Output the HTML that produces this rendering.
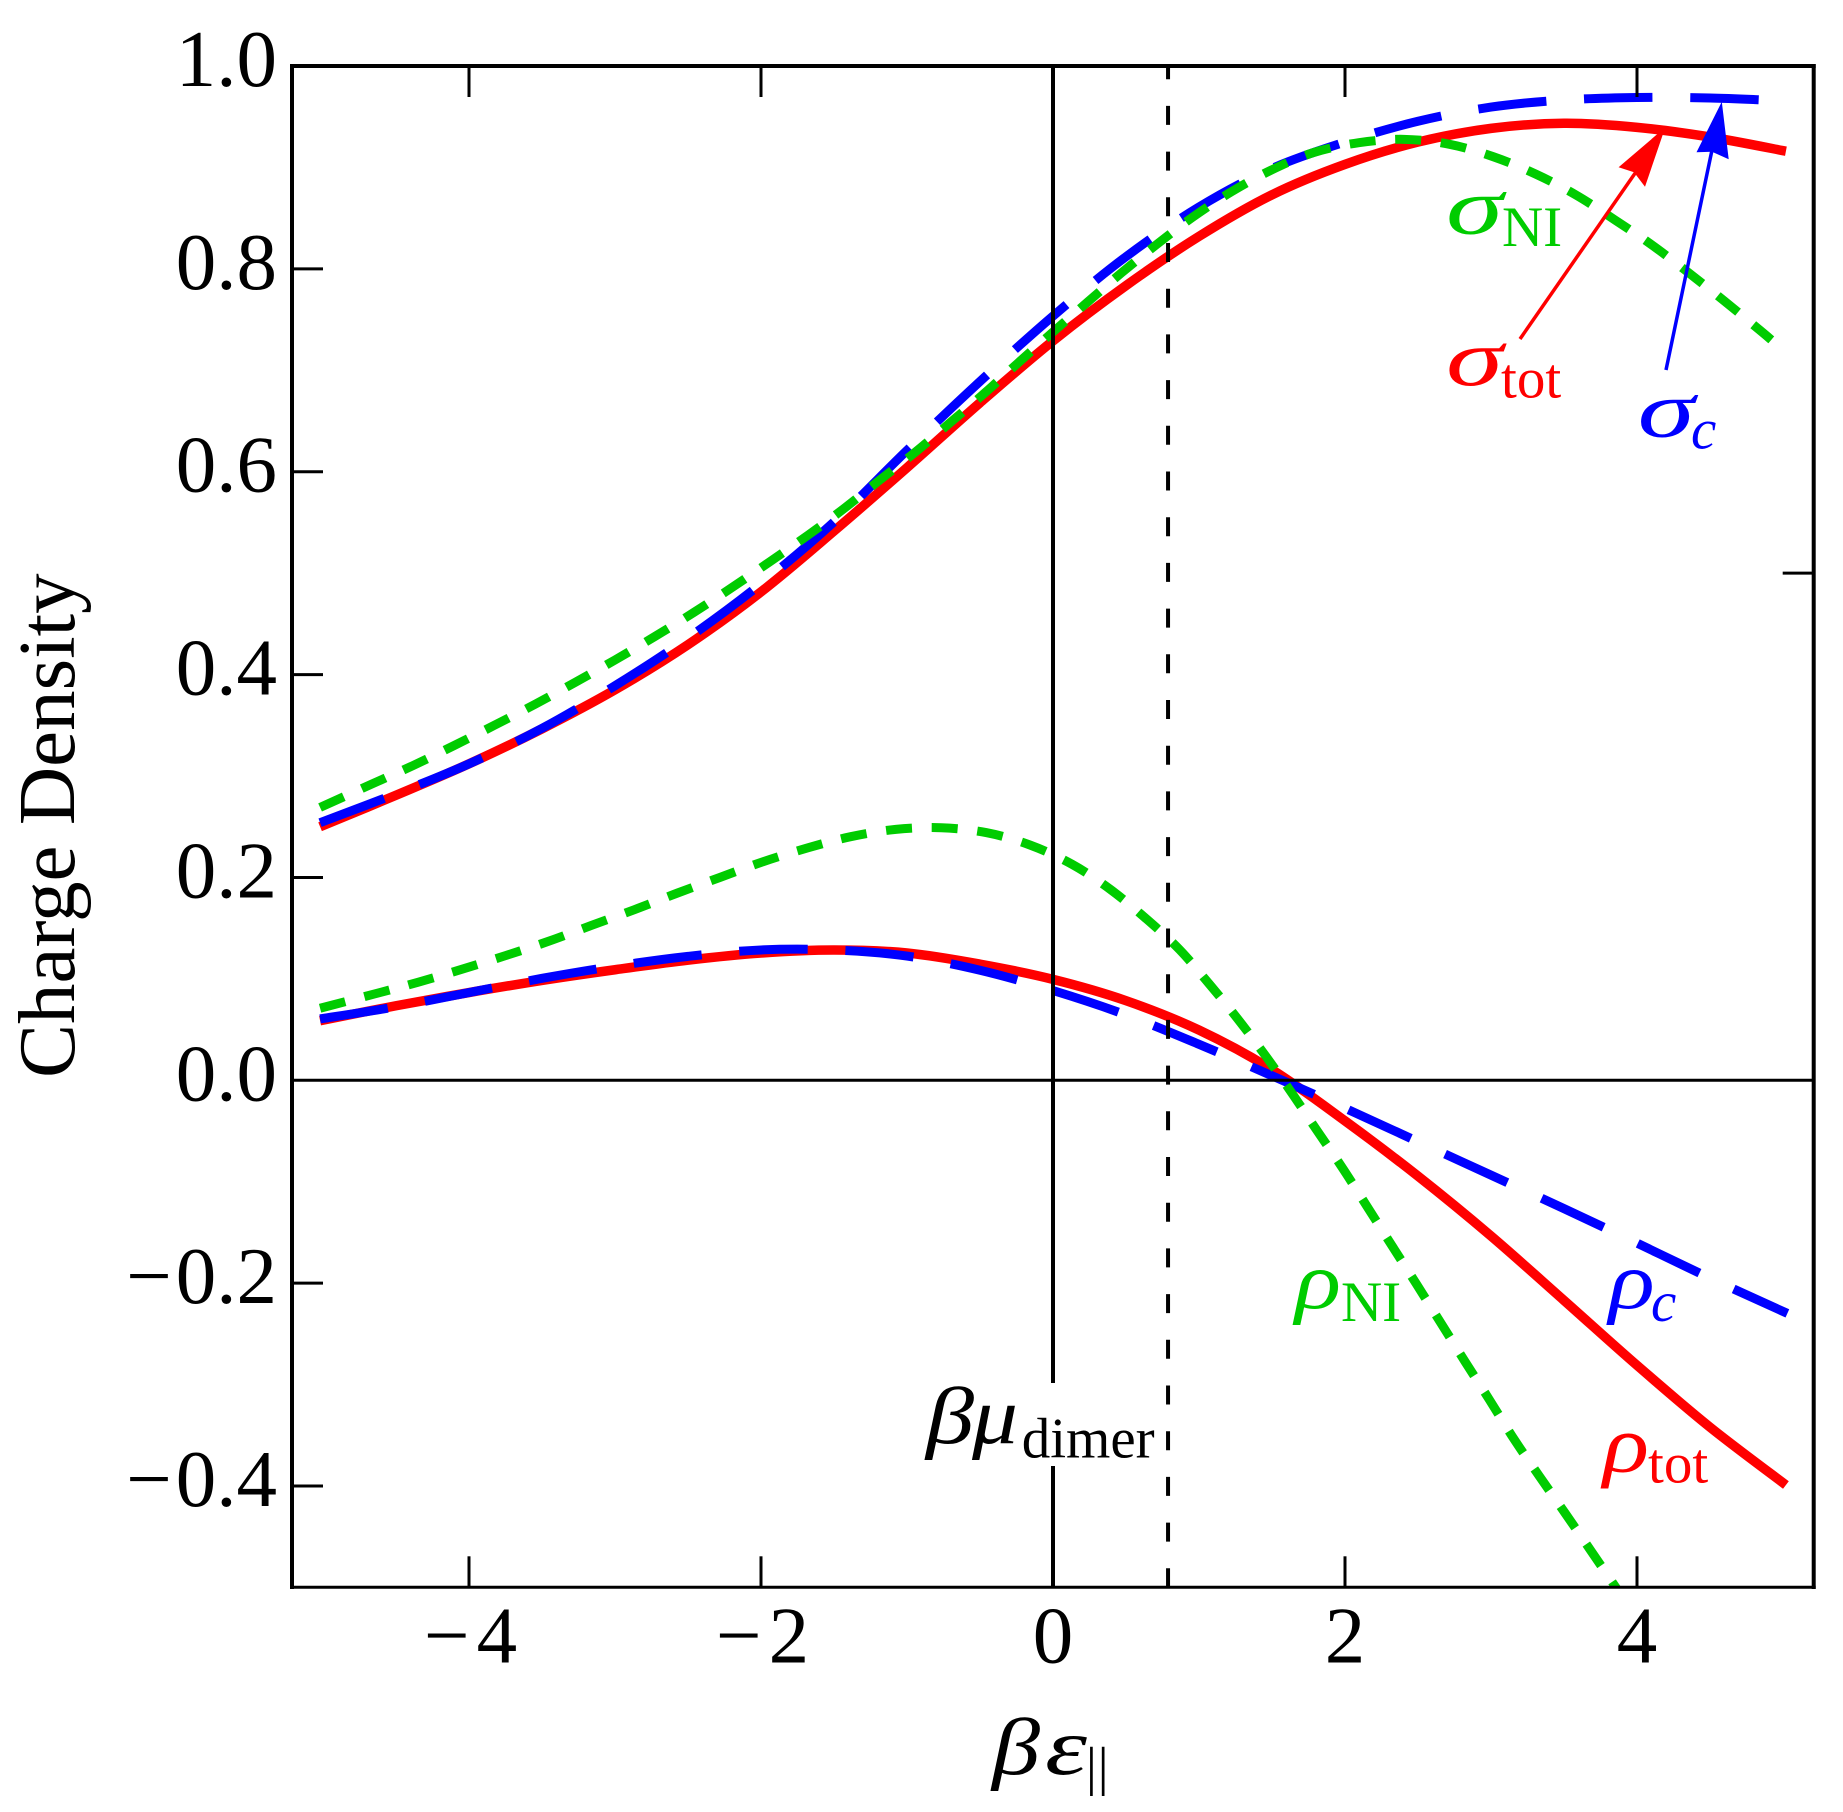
<!DOCTYPE html>
<html lang="en">
<head>
<meta charset="utf-8">
<title>Charge Density chart</title>
<style>
html,body{margin:0;padding:0;background:#fff;width:1843px;height:1812px;overflow:hidden}
svg{display:block}
text{font-family:"Liberation Serif",serif;fill:#000}
.i{font-style:italic}
.green{fill:#0c0}
.red{fill:#f00}
.blue{fill:#00f}
</style>
</head>
<body>
<svg id="chart" xmlns="http://www.w3.org/2000/svg" width="1843" height="1812" viewBox="0 0 1843 1812">
  <defs><clipPath id="plot-clip"><rect x="292" y="66" width="1521.7" height="1521.3"/></clipPath></defs>
  <rect x="0" y="0" width="1843" height="1812" fill="#fff"/>
  <g id="series" clip-path="url(#plot-clip)"></g>
  <g id="axes"></g>

  <line x1="1520" y1="339" x2="1638" y2="169" stroke="#f00" stroke-width="3.5"/>
  <polygon points="1665.3,127.3 1618.6,167.3 1634,172.3 1645,186.7" fill="#f00"/>
  <line x1="1666" y1="370" x2="1712" y2="150" stroke="#00f" stroke-width="3.5"/>
  <polygon points="1721.8,101.7 1696.5,152.3 1712,151.7 1728.7,159.3" fill="#00f"/>

  <g>
    <text class="i green" x="1446" y="233.3" font-size="81" textLength="57" lengthAdjust="spacingAndGlyphs">σ</text>
    <text class="green" x="1502" y="246" font-size="57">NI</text>
  </g>
  <g>
    <text class="i red" x="1446" y="385" font-size="81" textLength="57" lengthAdjust="spacingAndGlyphs">σ</text>
    <text class="red" x="1501" y="397.3" font-size="57">tot</text>
  </g>
  <g>
    <text class="i blue" x="1637.6" y="436.7" font-size="81" textLength="57" lengthAdjust="spacingAndGlyphs">σ</text>
    <text class="i blue" x="1691" y="448.3" font-size="57">c</text>
  </g>
  <g>
    <text class="i green" x="1295" y="1308" font-size="81" textLength="46" lengthAdjust="spacingAndGlyphs">ρ</text>
    <text class="green" x="1341" y="1321" font-size="57">NI</text>
  </g>
  <g>
    <text class="i blue" x="1608.8" y="1308" font-size="81" textLength="46" lengthAdjust="spacingAndGlyphs">ρ</text>
    <text class="i blue" x="1651" y="1321" font-size="57">c</text>
  </g>
  <g>
    <text class="i red" x="1603" y="1471.7" font-size="81" textLength="46" lengthAdjust="spacingAndGlyphs">ρ</text>
    <text class="red" x="1648" y="1482.3" font-size="57">tot</text>
  </g>
  <g>
    <text class="i" x="926" y="1443" font-size="81" textLength="48" lengthAdjust="spacingAndGlyphs">β</text>
    <text class="i" x="972" y="1443" font-size="81" textLength="46" lengthAdjust="spacingAndGlyphs">μ</text>
    <text x="1021.7" y="1457.3" font-size="57">dimer</text>
  </g>

  <text transform="translate(74,1078) rotate(-90)" font-size="81">Charge Density</text>
  <g>
    <text class="i" x="992" y="1774" font-size="81" textLength="48" lengthAdjust="spacingAndGlyphs">β</text>
    <text class="i" x="1045" y="1774" font-size="81" textLength="42" lengthAdjust="spacingAndGlyphs">ε</text>
    <text x="1086" y="1784.5" font-size="54" letter-spacing="1">||</text>
  </g>
</svg>
<script>
// Tick values
const xTicks = [-4, -2, 0, 2, 4];
const xTickLabels = ['\u22124', '\u22122', '0', '2', '4'];
const yTicks = [1.0, 0.8, 0.6, 0.4, 0.2, 0.0, -0.2, -0.4];
const yTickLabels = ['1.0', '0.8', '0.6', '0.4', '0.2', '0.0', '\u22120.2', '\u22120.4'];

// Reference lines
const zeroX = 0;
const zeroY = 0;
const muDimerX = 0.788;

// sigma_tot
const sigmaTotX = [-5.02,-4.5,-4,-3.5,-3,-2.5,-2,-1.5,-1,-0.5,0,0.5,1,1.5,2,2.5,3,3.5,4,4.5,5.02];
const sigmaTotY = [0.25,0.281,0.312,0.3465,0.385,0.4295,0.4815,0.5415,0.604,0.668,0.729,0.7835,0.832,0.873,0.903,0.925,0.9385,0.9435,0.9395,0.93,0.916];

// rho_tot
const rhoTotX = [-5.02,-4.5,-4,-3.5,-3,-2.5,-2,-1.5,-1,-0.5,0,0.5,1,1.5,2,2.5,3,3.5,4,4.5,5.02];
const rhoTotY = [0.0588,0.0735,0.0865,0.0985,0.109,0.1185,0.1255,0.1285,0.1255,0.1145,0.0995,0.0785,0.0495,0.0105,-0.04,-0.0945,-0.1535,-0.217,-0.281,-0.342,-0.399];

// sigma_c
const sigmaCX = [-5.02,-4.5,-4,-3.5,-3,-2.5,-2,-1.5,-1,-0.5,0,0.5,1,1.5,2,2.5,3,3.5,4,4.5,4.863];
const sigmaCY = [0.254,0.2825,0.312,0.347,0.389,0.436,0.4895,0.5505,0.621,0.689,0.7535,0.812,0.861,0.899,0.925,0.9455,0.9595,0.9665,0.969,0.9685,0.9665];

// rho_c
const rhoCX = [-5.02,-4.5,-4,-3.5,-3,-2.5,-2,-1.5,-1,-0.5,0,0.5,1,1.5,2,2.5,3,3.5,4,4.5,5.03];
const rhoCY = [0.0605,0.0725,0.0865,0.1005,0.1125,0.1222,0.1285,0.1285,0.1225,0.1085,0.0885,0.0645,0.0355,0.0045,-0.0275,-0.0605,-0.0935,-0.1265,-0.1605,-0.195,-0.2298];

// sigma_NI
const sigmaNIX = [-5.02,-4.67,-4.385,-4.104,-3.826,-3.548,-3.272,-3,-2.73,-2.463,-2.2,-1.945,-1.676,-1.436,-1.192,-0.945,-0.705,-0.47,-0.237,-0.002,0.235,0.47,0.714,0.961,1.223,1.497,1.787,2.095,2.403,2.716,3.015,3.305,3.582,3.849,4.103,4.353,4.596,4.84,4.92];
const sigmaNIY = [0.269,0.2918,0.3102,0.3299,0.35,0.3707,0.3924,0.4144,0.4373,0.461,0.4857,0.5107,0.5376,0.5632,0.5912,0.6191,0.6483,0.6773,0.7075,0.7375,0.767,0.7962,0.8245,0.8514,0.8761,0.8975,0.9148,0.9244,0.9277,0.9228,0.9106,0.8935,0.8728,0.8482,0.8235,0.7962,0.7686,0.7397,0.73];

// rho_NI
const rhoNIX = [-5.02,-4.65,-4.35,-4.05,-3.75,-3.45,-3.16,-2.867,-2.576,-2.28,-1.986,-1.676,-1.386,-1.077,-0.765,-0.454,-0.158,0.13,0.392,0.635,0.865,1.07,1.266,1.455,1.637,1.807,1.984,2.152,2.32,2.489,2.655,2.822,2.988,3.157,3.33,3.507,3.685,3.95];
const rhoNIY = [0.071,0.085,0.0966,0.1094,0.1229,0.1373,0.1528,0.1682,0.1844,0.2001,0.2155,0.2293,0.2402,0.2474,0.249,0.2441,0.232,0.213,0.1883,0.1597,0.1291,0.095,0.0604,0.0243,-0.0128,-0.0493,-0.0867,-0.1246,-0.1627,-0.2008,-0.2389,-0.2773,-0.3147,-0.3536,-0.39,-0.4266,-0.464,-0.52];

const NS = 'http://www.w3.org/2000/svg';
const PLOT = {left: 292, right: 1813.7, top: 66, bottom: 1587.3};
function xScale(v) { return 1053 + 146 * v; }
function yScale(v) { return 1080.3 - 1014.3 * v; }

function make(tag, attrs, parent) {
  const el = document.createElementNS(NS, tag);
  for (const k in attrs) el.setAttribute(k, attrs[k]);
  parent.appendChild(el);
  return el;
}

function curvePath(xs, ys) {
  const p = xs.map(function (x, i) { return [xScale(x), yScale(ys[i])]; });
  let d = 'M' + p[0][0].toFixed(2) + ' ' + p[0][1].toFixed(2);
  for (let i = 0; i < p.length - 1; i++) {
    const a = p[Math.max(i - 1, 0)], b = p[i], c = p[i + 1], e = p[Math.min(i + 2, p.length - 1)];
    const c1x = b[0] + (c[0] - a[0]) / 6, c1y = b[1] + (c[1] - a[1]) / 6;
    const c2x = c[0] - (e[0] - b[0]) / 6, c2y = c[1] - (e[1] - b[1]) / 6;
    d += 'C' + c1x.toFixed(2) + ' ' + c1y.toFixed(2) + ' ' + c2x.toFixed(2) + ' ' + c2y.toFixed(2) + ' ' + c[0].toFixed(2) + ' ' + c[1].toFixed(2);
  }
  return d;
}

function drawSeries(xs, ys, color, width, dash) {
  const attrs = {d: curvePath(xs, ys), fill: 'none', stroke: color, 'stroke-width': width};
  if (dash) attrs['stroke-dasharray'] = dash;
  return make('path', attrs, document.getElementById('series'));
}

const BLUE_DASH = '68.5 37.7';
const GREEN_DASH = '26 19.7';

const sigmaTotLine = drawSeries(sigmaTotX, sigmaTotY, '#ff0000', 9.5, null);


const rhoTotLine = drawSeries(rhoTotX, rhoTotY, '#ff0000', 9.5, null);


const sigmaCLine = drawSeries(sigmaCX, sigmaCY, '#0000ff', 9, BLUE_DASH);


const rhoCLine = drawSeries(rhoCX, rhoCY, '#0000ff', 9, BLUE_DASH);


const sigmaNILine = drawSeries(sigmaNIX, sigmaNIY, '#00cc00', 9, GREEN_DASH);


const rhoNILine = drawSeries(rhoNIX, rhoNIY, '#00cc00', 9, GREEN_DASH);



const axes = document.getElementById('axes');

// Reference lines
const zeroHLine = make('line', {x1: PLOT.left, x2: PLOT.right, y1: yScale(zeroY), y2: yScale(zeroY), stroke: '#000', 'stroke-width': 3}, axes);


const zeroVUpper = make('line', {x1: xScale(zeroX), x2: xScale(zeroX), y1: PLOT.top, y2: 1383, stroke: '#000', 'stroke-width': 4}, axes);


const zeroVLower = make('line', {x1: xScale(zeroX), x2: xScale(zeroX), y1: 1466, y2: PLOT.bottom, stroke: '#000', 'stroke-width': 4}, axes);


const muLine = make('line', {x1: xScale(muDimerX), x2: xScale(muDimerX), y1: 1587.3, y2: PLOT.top, stroke: '#000', 'stroke-width': 4, 'stroke-dasharray': '19 26.7', 'stroke-dashoffset': 0}, axes);



// Frame
const frameTop = make('line', {x1: 290, x2: 1815.7, y1: PLOT.top, y2: PLOT.top, stroke: '#000', 'stroke-width': 4}, axes);


const frameBottom = make('line', {x1: 290, x2: 1815.7, y1: PLOT.bottom, y2: PLOT.bottom, stroke: '#000', 'stroke-width': 3}, axes);


const frameLeft = make('line', {x1: PLOT.left, x2: PLOT.left, y1: 64, y2: 1589, stroke: '#000', 'stroke-width': 4}, axes);


const frameRight = make('line', {x1: PLOT.right, x2: PLOT.right, y1: 64, y2: 1589, stroke: '#000', 'stroke-width': 4}, axes);



// Right-hand tick at 0.5
const rightTick = make('line', {x1: PLOT.right - 31, x2: PLOT.right, y1: yScale(0.5), y2: yScale(0.5), stroke: '#000', 'stroke-width': 3}, axes);



// Writes a tick label, opening a small gap after a leading minus sign
function writeLabel(el, s, gap) {
  if (s.charAt(0) === '\u2212') {
    const m = make('tspan', {}, el);
    m.textContent = s.charAt(0);
    const d = make('tspan', {dx: gap}, el);
    d.textContent = s.slice(1);
  } else {
    el.textContent = s;
  }
}

// X ticks and labels
xTicks.forEach(function (v, i) {
  if (v !== 0) {
    const b = make('line', {x1: xScale(v), x2: xScale(v), y1: PLOT.bottom - 31, y2: PLOT.bottom, stroke: '#000', 'stroke-width': 3}, axes);
    
    
    const t = make('line', {x1: xScale(v), x2: xScale(v), y1: PLOT.top, y2: PLOT.top + 31, stroke: '#000', 'stroke-width': 3}, axes);
    
    
  }
  const label = make('text', {x: xScale(v) + (v < 0 ? 1.5 : 0), y: 1662.7, 'font-size': 81, 'text-anchor': 'middle'}, axes);
  
  
  writeLabel(label, xTickLabels[i], 7);
});

// Y ticks and labels
yTicks.forEach(function (v, i) {
  if (v !== 1 && v !== 0) {
    const t = make('line', {x1: PLOT.left, x2: PLOT.left + 31, y1: yScale(v), y2: yScale(v), stroke: '#000', 'stroke-width': 3}, axes);
    
    
  }
  const label = make('text', {x: 277, y: yScale(v) + 20, 'font-size': 81, 'text-anchor': 'end'}, axes);
  
  
  writeLabel(label, yTickLabels[i], 4);
});
</script>
</body>
</html>
